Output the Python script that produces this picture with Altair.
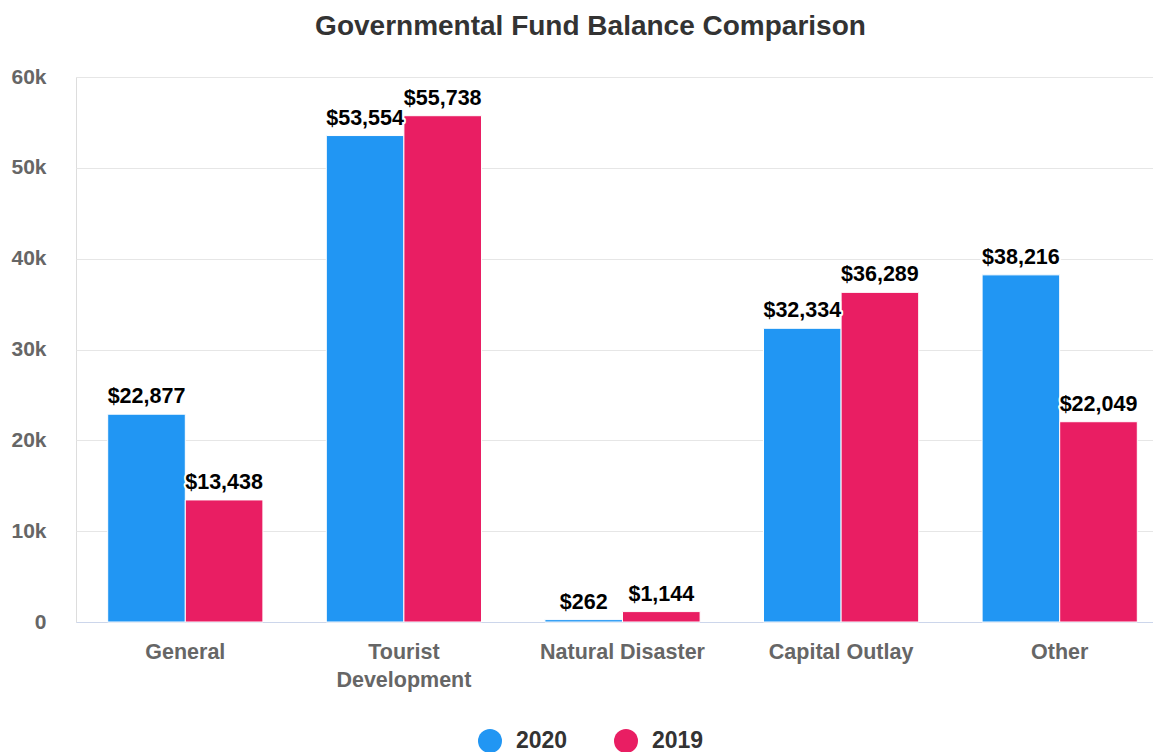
import altair as alt
import pandas as pd

categories = ["General", "Tourist Development", "Natural Disaster", "Capital Outlay", "Other"]
series = ["2020", "2019"]
values_2020 = [22877, 53554, 262, 32334, 38216]
values_2019 = [13438, 55738, 1144, 36289, 22049]
colors = ["#2196F3", "#E91E63"]
y_ticks = [0, 10000, 20000, 30000, 40000, 50000, 60000]

rows = []
for c, a, b in zip(categories, values_2020, values_2019):
    rows.append({"category": c, "year": "2020", "value": a})
    rows.append({"category": c, "year": "2019", "value": b})
df = pd.DataFrame(rows)

FONT = "Liberation Sans"

x_enc = alt.X(
    "category:N",
    sort=categories,
    scale=alt.Scale(paddingInner=0.29, paddingOuter=0.145, range=[0, 1093]),
    axis=alt.Axis(
        title=None,
        labelAngle=0,
        labelFont=FONT,
        labelFontSize=21.5,
        labelFontWeight="bold",
        labelColor="#666666",
        labelPadding=19,
        labelLimit=0,
        labelLineHeight=28,
        labelExpr="datum.label == 'Tourist Development' ? ['Tourist', 'Development'] : datum.label",
        ticks=False,
        grid=False,
        domainColor="#ccd6eb",
        domainWidth=1,
    ),
)
y_enc = alt.Y(
    "value:Q",
    scale=alt.Scale(domain=[0, 60000], nice=False),
    axis=alt.Axis(
        title=None,
        values=y_ticks,
        labelExpr="datum.value == 0 ? '0' : (datum.value / 1000) + 'k'",
        labelFont=FONT,
        labelFontSize=21,
        labelFontWeight="bold",
        labelColor="#666666",
        labelPadding=30,
        ticks=False,
        domain=False,
        gridColor="#e6e6e6",
        gridWidth=1,
    ),
)
xoff = alt.XOffset("year:N", sort=series)

bars = alt.Chart().mark_bar(stroke="white", strokeWidth=1).encode(
    x=x_enc,
    y=y_enc,
    xOffset=xoff,
    color=alt.Color(
        "year:N",
        sort=series,
        scale=alt.Scale(domain=series, range=colors),
        legend=alt.Legend(
            orient="none",
            legendX=402,
            legendY=652,
            direction="horizontal",
            title=None,
            symbolType="circle",
            symbolSize=576,
            symbolStrokeWidth=0,
            symbolOpacity=1,
            labelFont=FONT,
            labelFontSize=23,
            labelFontWeight="bold",
            labelColor="#333333",
            labelOffset=14,
            columnPadding=46,
            padding=0,
        ),
    ),
)

halo = alt.Chart().mark_text(
    font=FONT, fontSize=21.5, fontWeight="bold", baseline="alphabetic", dy=-11,
    stroke="white", strokeWidth=4, strokeJoin="round", fill="white",
).encode(
    x=alt.X("category:N", sort=categories),
    y=alt.Y("value:Q"),
    xOffset=xoff,
    text=alt.Text("value:Q", format="$,.0f"),
)

labels = alt.Chart().mark_text(
    font=FONT, fontSize=21.5, fontWeight="bold", baseline="alphabetic", dy=-11, color="#000000",
).encode(
    x=alt.X("category:N", sort=categories),
    y=alt.Y("value:Q"),
    xOffset=xoff,
    text=alt.Text("value:Q", format="$,.0f"),
)

chart = alt.layer(bars, halo, labels, data=df).properties(
    width=1077,
    height=545,
    autosize=alt.AutoSizeParams(type="none"),
    padding={"left": 68, "top": 69, "right": 0, "bottom": 130},
    title=alt.TitleParams(
        "Governmental Fund Balance Comparison",
        font=FONT,
        fontSize=28,
        fontWeight="bold",
        color="#333333",
        anchor="middle",
        baseline="alphabetic",
        offset=3,
        dx=-24,
    ),
).configure_view(strokeWidth=0, stroke="transparent").configure(background="white")

chart.save("out.html", embed_options={"renderer": "svg", "actions": False})
